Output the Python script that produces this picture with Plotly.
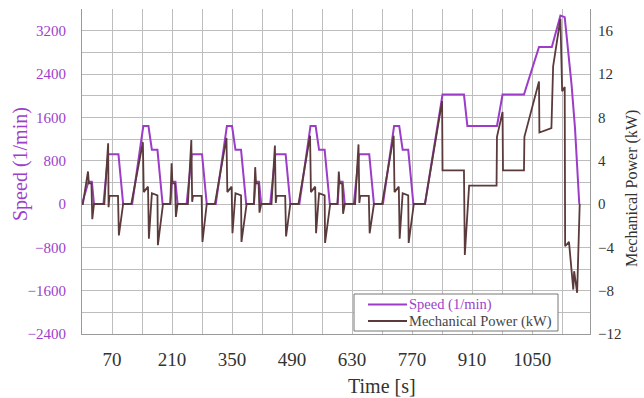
import plotly.graph_objects as go

# ---------------- data ----------------
speed_t = [0, 15, 23, 28, 50, 61, 85, 96, 117, 143, 155, 163, 176, 188,
           206, 210, 218, 223, 244, 256, 280, 291, 312, 338, 350, 358, 371, 383,
           401, 405, 413, 418, 439, 451, 475, 486, 507, 533, 545, 553, 566, 578,
           596, 600, 608, 613, 634, 646, 670, 681, 702, 728, 740, 748, 761, 773,
           800, 841, 891, 899, 968, 981, 1031, 1066, 1096, 1116, 1126, 1142, 1150, 1160]
speed_rpm = [0, 410, 410, 0, 0, 920, 920, 0, 0, 1440, 1440, 1000, 1000, 0,
             0, 410, 410, 0, 0, 920, 920, 0, 0, 1440, 1440, 1000, 1000, 0,
             0, 410, 410, 0, 0, 920, 920, 0, 0, 1440, 1440, 1000, 1000, 0,
             0, 410, 410, 0, 0, 920, 920, 0, 0, 1440, 1440, 1000, 1000, 0,
             0, 2020, 2020, 1440, 1440, 2020, 2020, 2900, 2900, 3480, 3450, 2200, 1400, 0]

power_t = [0, 2, 14, 16, 22, 24, 28, 52, 61, 62, 64, 84, 86, 96, 115, 142, 144, 154, 156, 163, 176, 177, 189,
           206, 209, 211, 217, 219, 223, 247, 255, 257, 259, 279, 281, 291, 310, 337, 339, 349, 351, 358, 371, 372, 384,
           401, 404, 406, 412, 414, 418, 442, 450, 452, 454, 474, 476, 486, 505, 532, 534, 544, 546, 553, 566, 567, 579,
           596, 599, 601, 607, 609, 613, 637, 645, 647, 649, 669, 671, 681, 700, 727, 729, 739, 741, 748, 761, 762, 774,
           800, 840, 841, 891, 893, 903, 967, 968, 981, 982, 1031, 1032, 1066, 1067, 1095, 1099, 1116, 1120, 1126, 1127,
           1136, 1146, 1148, 1155, 1158, 1161]
power_kw = [0, 0, 3.0, 1.9, 1.9, -1.4, 0, 0, 5.6, -0.3, 0.75, 0.75, -2.9, 0, 0, 5.7, 1.1, 1.6, -3.2, 1.0, 0.8, -3.8, 0,
            0, 3.75, 1.9, 1.9, -1.2, 0, 0, 5.9, 0.2, 0.75, 0.75, -3.5, 0, 0, 6.1, 1.1, 1.6, -2.7, 1.0, 0.8, -3.5, 0,
            0, 3.4, 1.9, 1.9, -0.8, 0, 0, 5.4, 0.1, 0.75, 0.75, -3.0, 0, 0, 6.3, 1.1, 1.6, -2.7, 1.0, 0.8, -3.6, 0,
            0, 3.0, 1.9, 1.9, -0.9, 0, 0, 5.5, 0.1, 0.75, 0.75, -2.7, 0, 0, 6.3, 1.1, 1.6, -3.2, 1.0, 0.8, -3.6, 0,
            0, 9.5, 3.1, 3.1, -4.7, 1.7, 1.7, 6.2, 8.5, 3.1, 3.1, 6.2, 11.3, 6.6, 7.0, 12.7, 17.1, 10.4, 10.8, -3.9,
            -3.5, -7.9, -6.2, -8.2, -4.6, 0]

x_ticks = [70, 210, 350, 490, 630, 770, 910, 1050]
speed_ticks = [-2400, -1600, -800, 0, 800, 1600, 2400, 3200]
power_ticks = [-12, -8, -4, 0, 4, 8, 12, 16]

# ---------------- style ----------------
PURPLE = "#9C3CC8"
PURPLE_TXT = "#9B3FCB"
BROWN = "#5A3A3A"
DARK = "#333333"
GRID = "#BDBDBD"
FONT = "Liberation Serif"

W, H = 644, 398
L, R, T, B = 82, 54, 9, 64
PW, PH = W - L - R, H - T - B


def px(xp):
    return (xp - L) / PW


def py(yp):
    return (H - B - yp) / PH


fig = go.Figure()
fig.add_trace(go.Scatter(x=speed_t, y=speed_rpm, mode="lines", name="Speed (1/min)",
                         line=dict(color=PURPLE, width=2), yaxis="y"))
fig.add_trace(go.Scatter(x=power_t, y=power_kw, mode="lines", name="Mechanical Power (kW)",
                         line=dict(color=BROWN, width=1.8), yaxis="y2"))

fig.update_layout(
    width=W, height=H,
    margin=dict(l=L, r=R, t=T, b=B),
    paper_bgcolor="white", plot_bgcolor="white",
    showlegend=False,
    font=dict(family=FONT, color=DARK),
    xaxis=dict(range=[0, 1185], tickvals=x_ticks, ticktext=[str(v) for v in x_ticks],
               showgrid=True, gridcolor=GRID, gridwidth=1,
               minor=dict(dtick=70, tick0=0, showgrid=True, gridcolor=GRID, gridwidth=1),
               showline=True, linecolor="#9a9a9a", linewidth=1,
               ticks="outside", ticklen=8, tickcolor="rgba(0,0,0,0)",
               tickfont=dict(family=FONT, size=19, color=DARK), zeroline=False),
    yaxis=dict(range=[-2400, 3600], tickvals=speed_ticks,
               showgrid=True, gridcolor=GRID, gridwidth=1,
               minor=dict(dtick=400, tick0=0, showgrid=True, gridcolor=GRID, gridwidth=1),
               showline=True, linecolor="#9a9a9a", linewidth=1,
               ticks="outside", ticklen=12, tickcolor="rgba(0,0,0,0)",
               tickfont=dict(family=FONT, size=15, color=PURPLE_TXT), zeroline=False),
    yaxis2=dict(range=[-12, 18], tickvals=power_ticks, overlaying="y", side="right",
                showgrid=False, showline=True, linecolor="#9a9a9a", linewidth=1,
                ticks="outside", ticklen=4, tickcolor="rgba(0,0,0,0)",
                tickfont=dict(family=FONT, size=15, color=DARK), zeroline=False),
)

# axis titles placed as in the reference
fig.add_annotation(text="Time [s]", xref="paper", yref="paper", x=px(382), y=py(386),
                   xanchor="center", yanchor="middle", showarrow=False,
                   font=dict(family=FONT, size=20, color=DARK))
fig.add_annotation(text="Speed (1/min)", xref="paper", yref="paper", x=px(20), y=py(164),
                   xanchor="center", yanchor="middle", showarrow=False, textangle=-90,
                   font=dict(family=FONT, size=20, color=PURPLE_TXT))
fig.add_annotation(text="Mechanical Power (kW)", xref="paper", yref="paper", x=px(632), y=py(189),
                   xanchor="center", yanchor="middle", showarrow=False, textangle=-90,
                   font=dict(family=FONT, size=16, color=DARK))

# legend box (drawn to match the compact reference legend)
fig.add_shape(type="rect", xref="paper", yref="paper", x0=px(354), x1=px(558), y0=py(331), y1=py(294),
              line=dict(color="#777777", width=1), fillcolor="white", layer="above")
fig.add_shape(type="line", xref="paper", yref="paper", x0=px(368), x1=px(407), y0=py(304.5), y1=py(304.5),
              line=dict(color=PURPLE, width=2), layer="above")
fig.add_shape(type="line", xref="paper", yref="paper", x0=px(368), x1=px(407), y0=py(321), y1=py(321),
              line=dict(color=BROWN, width=1.8), layer="above")
fig.add_annotation(text="Speed (1/min)", xref="paper", yref="paper", x=px(408), y=py(304.5),
                   xanchor="left", yanchor="middle", showarrow=False, borderpad=0,
                   font=dict(family=FONT, size=14.5, color=PURPLE_TXT))
fig.add_annotation(text="Mechanical Power (kW)", xref="paper", yref="paper", x=px(408), y=py(321),
                   xanchor="left", yanchor="middle", showarrow=False, borderpad=0,
                   font=dict(family=FONT, size=14.5, color="#444444"))

fig.write_html("out.html")
